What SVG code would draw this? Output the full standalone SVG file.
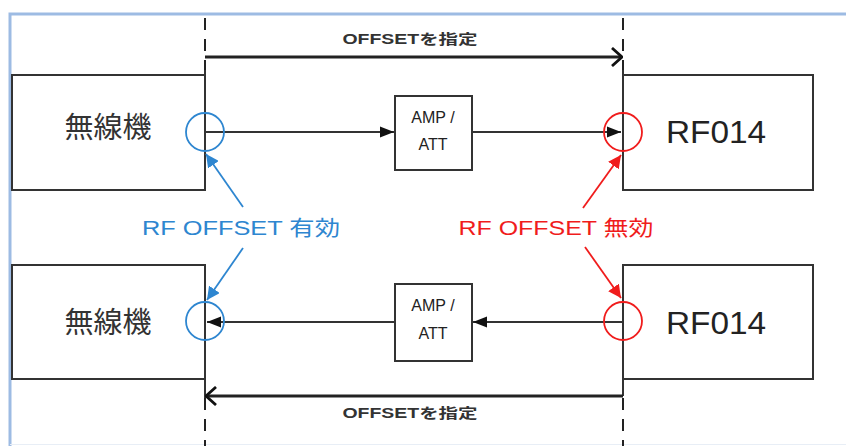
<svg xmlns="http://www.w3.org/2000/svg" width="846" height="446" viewBox="0 0 846 446">
<defs>
<style>
.frame{fill:none;stroke:#9dbbe3;stroke-width:3}
.box{fill:#fff;stroke:#333;stroke-width:2}
.amp{fill:#fff;stroke:#333;stroke-width:2}
.ln{fill:none;stroke:#333;stroke-width:2}
.dash{fill:none;stroke:#222;stroke-width:2;stroke-dasharray:12 9}
.dim{fill:none;stroke:#222;stroke-width:3}
.blue{fill:none;stroke:#2e86d0;stroke-width:1.8}
.red{fill:none;stroke:#f01c1c;stroke-width:1.8}
.t{font-family:"Liberation Sans","Noto Sans CJK JP",sans-serif}
.big{font-size:31px;fill:#222}
.jp{font-size:29px;fill:#333}
.amptxt{font-size:16px;fill:#222}
.off{font-size:14px;font-weight:bold;fill:#333}
.lbl{font-size:21px}
</style>
<marker id="fa2" viewBox="0 0 14 12" refX="14" refY="6" markerWidth="14" markerHeight="12" markerUnits="userSpaceOnUse" orient="auto">
<path d="M0,0.5 L14,6 L0,11.5 Z" fill="#111"/>
</marker>
<marker id="oa" viewBox="0 0 12 20" refX="11" refY="10" markerWidth="12" markerHeight="20" markerUnits="userSpaceOnUse" orient="auto">
<path d="M1,1 L11,10 L1,19" fill="none" stroke="#111" stroke-width="2.8"/>
</marker>
<marker id="ba" viewBox="0 0 10 10" refX="10" refY="5" markerWidth="13" markerHeight="13" markerUnits="userSpaceOnUse" orient="auto">
<path d="M0,0 L10,5 L0,10 Z" fill="#2e86d0"/>
</marker>
<marker id="ra" viewBox="0 0 10 10" refX="10" refY="5" markerWidth="13" markerHeight="13" markerUnits="userSpaceOnUse" orient="auto">
<path d="M0,0 L10,5 L0,10 Z" fill="#f01c1c"/>
</marker>
</defs>
<rect width="846" height="446" fill="#fff"/>
<path class="frame" d="M10,446 L10,14 L846,14"/>
<line x1="10" y1="444.5" x2="846" y2="444.5" stroke="#e8eef6" stroke-width="1"/>

<g id="radio-top">
<rect class="box" x="12" y="75" width="193" height="115"/>
<text class="t jp" x="108" y="138" text-anchor="middle">無線機</text>
</g>
<g id="rf014-top">
<rect class="box" x="623" y="75" width="190" height="115"/>
<text class="t big" x="716" y="143" text-anchor="middle" textLength="100" lengthAdjust="spacingAndGlyphs">RF014</text>
</g>
<g id="amp-top">
<rect class="amp" x="395" y="96" width="77" height="74"/>
<text class="t amptxt" x="433" y="123" text-anchor="middle">AMP /</text>
<text class="t amptxt" x="433" y="150" text-anchor="middle">ATT</text>
</g>
<g id="radio-bottom">
<rect class="box" x="12" y="265" width="193" height="114"/>
<text class="t jp" x="108" y="333" text-anchor="middle">無線機</text>
</g>
<g id="rf014-bottom">
<rect class="box" x="623" y="265" width="190" height="114"/>
<text class="t big" x="716" y="334" text-anchor="middle" textLength="100" lengthAdjust="spacingAndGlyphs">RF014</text>
</g>
<g id="amp-bottom">
<rect class="amp" x="395" y="284" width="77" height="77"/>
<text class="t amptxt" x="433" y="311" text-anchor="middle">AMP /</text>
<text class="t amptxt" x="433" y="339" text-anchor="middle">ATT</text>
</g>

<g id="connectors">
<line class="dash" x1="205" y1="18" x2="205" y2="72"/>
<line class="dash" x1="623" y1="18" x2="623" y2="72"/>
<line class="ln" x1="205" y1="70" x2="205" y2="75"/>
<line class="ln" x1="623" y1="70" x2="623" y2="75"/>
<line class="dim" x1="205" y1="57" x2="622" y2="57" marker-end="url(#oa)"/>
<text class="t off" x="410" y="44" text-anchor="middle" textLength="135" lengthAdjust="spacingAndGlyphs">OFFSETを指定</text>

<line class="ln" x1="205" y1="379" x2="205" y2="398"/>
<line class="ln" x1="623" y1="379" x2="623" y2="396"/>
<line class="dash" x1="205" y1="398" x2="205" y2="446"/>
<line class="dash" x1="623" y1="398" x2="623" y2="446"/>
<line class="dim" x1="623" y1="396" x2="206" y2="396" marker-end="url(#oa)"/>
<text class="t off" x="410" y="418" text-anchor="middle" textLength="135" lengthAdjust="spacingAndGlyphs">OFFSETを指定</text>

<line class="ln" x1="205" y1="132" x2="394" y2="132" marker-end="url(#fa2)"/>
<line class="ln" x1="472" y1="132" x2="621" y2="132" marker-end="url(#fa2)"/>
<line class="ln" x1="623" y1="322" x2="473" y2="322" marker-end="url(#fa2)"/>
<line class="ln" x1="395" y1="322" x2="207" y2="322" marker-end="url(#fa2)"/>

<circle class="blue" cx="205" cy="132" r="19"/>
<circle class="blue" cx="205" cy="321" r="19"/>
<circle class="red" cx="623" cy="132" r="19"/>
<circle class="red" cx="623" cy="321" r="19"/>

<line class="blue" x1="243" y1="207" x2="206" y2="154" marker-end="url(#ba)"/>
<line class="blue" x1="243" y1="248" x2="207" y2="300" marker-end="url(#ba)"/>
<line class="red" x1="583" y1="208" x2="621" y2="155" marker-end="url(#ra)"/>
<line class="red" x1="585" y1="247" x2="621" y2="298" marker-end="url(#ra)"/>
</g>
<text class="t lbl" x="241" y="235" text-anchor="middle" fill="#2e86d0" textLength="198" lengthAdjust="spacingAndGlyphs">RF OFFSET 有効</text>
<text class="t lbl" x="556" y="235" text-anchor="middle" fill="#f01c1c" textLength="195" lengthAdjust="spacingAndGlyphs">RF OFFSET 無効</text>
</svg>
